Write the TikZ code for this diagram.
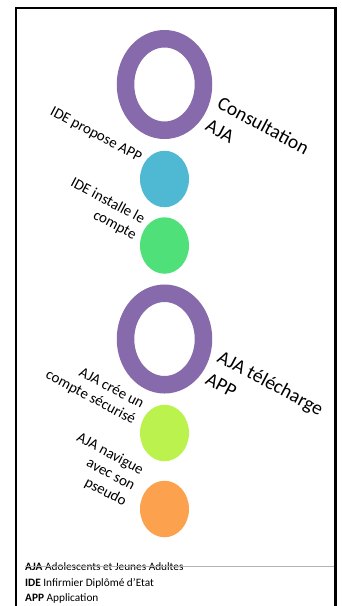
\documentclass[tikz,border=0pt]{standalone}
\usepackage{fontspec}
\setmainfont{Carlito}
\usetikzlibrary{shapes.geometric}
\definecolor{ringcol}{HTML}{876AAB}
\definecolor{bluecol}{HTML}{4FB8D3}
\definecolor{greencol}{HTML}{4FE07A}
\definecolor{limecol}{HTML}{BBF24E}
\definecolor{orangecol}{HTML}{FCA24F}
\tikzstyle{ring}=[shape=ellipse,
                  draw=ringcol,
                  line width=17.5pt,
                  minimum width=78pt,
                  minimum height=91.5pt,
                  inner sep=0pt]
\tikzstyle{disc}=[shape=ellipse,
                  minimum width=49pt,
                  minimum height=56.5pt,
                  inner sep=0pt]
\tikzstyle{lt}=[rotate=-28,
                align=right,
                inner sep=0pt,
                font=\fontsize{15}{18}\selectfont]
\tikzstyle{rt}=[rotate=-28,
                align=left,
                inner sep=0pt,
                font=\fontsize{19.5}{25}\selectfont]
\begin{document}
\begin{tikzpicture}[x=1pt,y=-1pt]
\useasboundingbox (0,0) rectangle (341,606);

% frame
\draw[line width=2.5pt] (16,606) -- (16,8) -- (335.5,8) -- (335.5,606);

\node[ring]                (consult) at (164.5,84.5)  {};
\node[disc,fill=bluecol]   (propose) at (164.5,179)   {};
\node[disc,fill=greencol]  (install) at (164.5,245.5) {};
\node[ring]                (telech)  at (164.5,339)   {};
\node[disc,fill=limecol]   (cree)    at (164.5,433)   {};
\node[disc,fill=orangecol] (navig)   at (164.5,509)   {};

\node[rt,anchor=north west] (consult-t) at (222.5,95.6) {Consultation\\AJA};
\node[lt,anchor=base east]  (propose-t) at (139,162)    {IDE propose APP};
\node[lt,anchor=north east] (install-t) at (146.8,214.6) {IDE installe le\\compte};
\node[rt,anchor=north west] (telech-t)  at (222.5,349)  {AJA télécharge\\APP};
\node[lt,anchor=north east] (cree-t)    at (145.9,399.4) {AJA crée un\\compte sécurisé};
\node[lt,anchor=north east] (navig-t)   at (145.4,465.4) {AJA navigue\\avec son\\pseudo};

% legend
\node[anchor=north west,align=left,inner sep=0pt,
      font=\fontsize{11.3}{15.5}\selectfont] (legend) at (25,562.6)
      {\textbf{AJA} Adolescents et Jeunes Adultes\\
       \textbf{IDE} Infirmier Diplômé d’Etat\\
       \textbf{APP} Application};
\draw[black!30,line width=0.8pt] (25,566) -- (334,566);
\end{tikzpicture}
\end{document}
